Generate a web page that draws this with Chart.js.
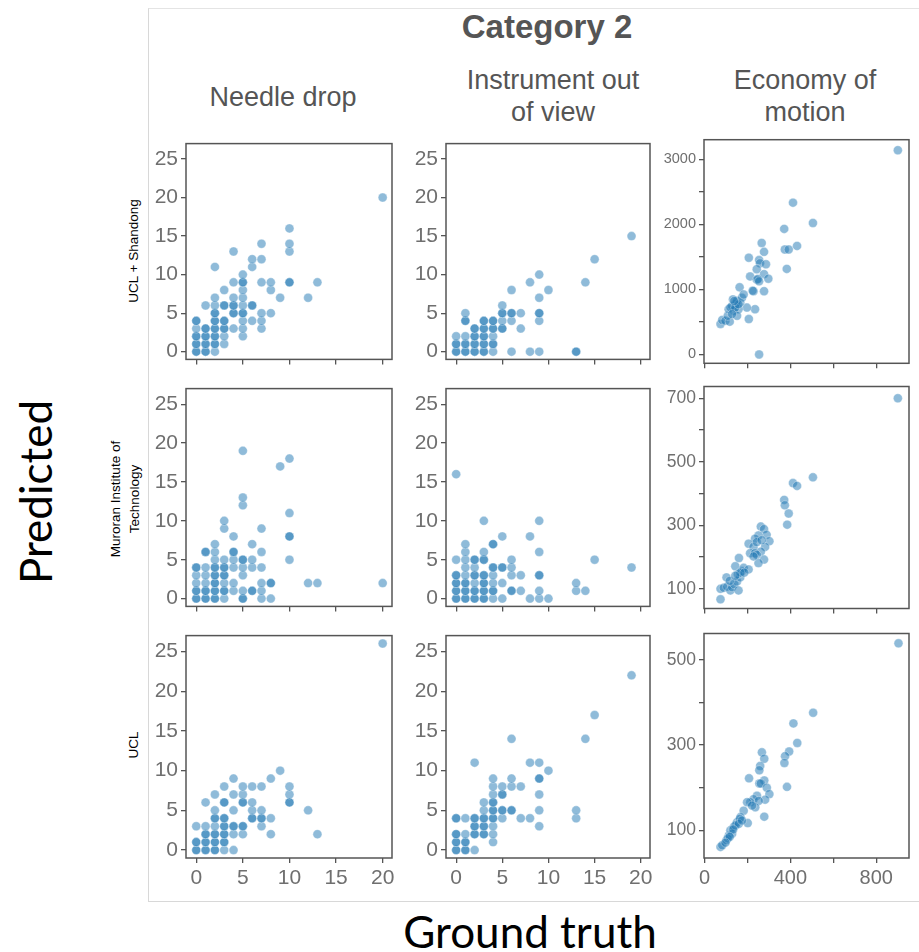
<!DOCTYPE html>
<html>
<head>
<meta charset="utf-8">
<script src="https://cdn.jsdelivr.net/npm/chart.js@4.4.0/dist/chart.umd.min.js"></script>
<style>
  body { margin: 0; background: #fff; width: 919px; height: 952px; position: relative; overflow: hidden;
         font-family: "Liberation Sans", Arial, sans-serif; }
  .frame { position: absolute; left: 148px; top: 8px; width: 771px; height: 892px;
           border-left: 1px solid #d8d8d8; border-top: 1px solid #e4e4e4; border-bottom: 1px solid #d8d8d8; }
  .txt { position: absolute; white-space: nowrap; text-align: center; transform: translate(-50%, -50%); }
  .rot { transform: translate(-50%, -50%) rotate(-90deg); }
  .head { color: #555; font-size: 27px; line-height: 32px; }
  .big { font-family: Lato, "Open Sans", sans-serif; font-size: 44px; color: #000; }
  .row { font-size: 13.5px; line-height: 19px; color: #000; }
  .panel { position: absolute; }
</style>
</head>
<body>
<div class="frame"></div>
<div class="txt" style="left:547px;top:27px;color:#555;font-size:33px;font-weight:bold">Category 2</div>
<div class="txt head" style="left:283px;top:97px">Needle drop</div>
<div class="txt head" style="left:553px;top:96px">Instrument out<br>of view</div>
<div class="txt head" style="left:805px;top:96px">Economy of<br>motion</div>
<div class="txt big rot" style="left:35px;top:492px">Predicted</div>
<div class="txt big" style="left:530px;top:931px">Ground truth</div>
<div class="txt row rot" style="left:133px;top:251px">UCL + Shandong</div>
<div class="txt row rot" style="left:125px;top:499px">Muroran Institute of<br>Technology</div>
<div class="txt row rot" style="left:133px;top:745px">UCL</div>

<script>
// ground truth / predicted pairs
const ucsNeedle = [
  [0,0],[0,0],[0,1],[0,1],[0,2],[0,2],[0,3],[0,4],[0,4],
  [1,0],[1,0],[1,1],[1,1],[1,2],[1,2],[1,3],[1,3],[1,6],
  [2,0],[2,1],[2,1],[2,2],[2,2],[2,3],[2,3],[2,4],[2,4],[2,5],[2,5],[2,6],[2,7],[2,11],
  [3,1],[3,2],[3,3],[3,3],[3,4],[3,4],[3,6],[3,6],[3,8],
  [4,3],[4,5],[4,5],[4,6],[4,6],[4,7],[4,9],[4,13],
  [5,2],[5,3],[5,4],[5,5],[5,5],[5,6],[5,7],[5,8],[5,9],[5,9],[5,10],
  [6,4],[6,6],[6,6],[6,11],[6,12],
  [7,3],[7,4],[7,5],[7,9],[7,12],[7,14],
  [8,5],[8,8],[8,9],
  [9,7],
  [10,9],[10,9],[10,13],[10,14],[10,16],
  [12,7],[13,9],[20,20]
];
const ucsInstrument = [
  [0,0],[0,0],[0,1],[0,1],[0,2],
  [1,0],[1,0],[1,1],[1,1],[1,2],[1,4],[1,4],[1,5],
  [2,0],[2,0],[2,1],[2,1],[2,2],[2,2],[2,3],[2,3],
  [3,0],[3,0],[3,1],[3,1],[3,2],[3,2],[3,3],[3,3],[3,4],[3,4],
  [4,0],[4,1],[4,1],[4,2],[4,3],[4,3],[4,4],[4,4],
  [5,3],[5,3],[5,4],[5,5],[5,5],[5,6],
  [6,0],[6,4],[6,5],[6,5],[6,8],
  [7,3],[7,5],
  [8,0],[8,9],
  [9,0],[9,4],[9,5],[9,5],[9,7],[9,10],
  [10,8],
  [13,0],[13,0],[14,9],[15,12],[19,15]
];
const ucsEconomy = [
  [901,3141],[412,2335],[505,2022],[371,1931],[374,1614],[392,1614],[431,1669],[383,1316],
  [266,1715],[277,1578],[206,1488],[254,1452],[258,1402],[286,1387],[243,1311],[277,1235],
  [212,1200],[243,1150],[248,1160],[254,1125],[297,1165],[277,973],[228,973],[224,980],[235,696],
  [206,545],[254,0],[163,1034],[197,721],[74,469],[82,530],[97,519],[117,504],[108,595],
  [112,696],[128,746],[143,772],[151,822],[135,671],[158,696],[166,797],[174,872],[151,595],
  [182,923],[132,847],[120,721],[143,721],[158,772],[138,822],[128,620]
];
const muroranNeedle = [
  [0,0],[0,0],[0,1],[0,1],[0,2],[0,3],[0,4],[0,4],
  [1,0],[1,0],[1,1],[1,1],[1,2],[1,3],[1,4],[1,6],[1,6],
  [2,0],[2,0],[2,1],[2,1],[2,2],[2,2],[2,3],[2,3],[2,4],[2,4],[2,5],[2,6],[2,7],
  [3,0],[3,1],[3,1],[3,2],[3,3],[3,3],[3,4],[3,4],[3,5],[3,9],[3,10],
  [4,1],[4,2],[4,4],[4,5],[4,6],[4,6],[4,8],
  [5,0],[5,0],[5,1],[5,3],[5,4],[5,5],[5,5],[5,12],[5,13],[5,19],
  [6,1],[6,1],[6,4],[6,5],[6,7],
  [7,0],[7,1],[7,2],[7,4],[7,6],[7,9],
  [8,0],[8,2],[8,2],
  [9,17],
  [10,5],[10,8],[10,8],[10,11],[10,18],
  [12,2],[13,2],[20,2]
];
const muroranInstrument = [
  [0,0],[0,0],[0,1],[0,1],[0,2],[0,2],[0,3],[0,3],[0,5],[0,16],
  [1,0],[1,0],[1,1],[1,1],[1,2],[1,2],[1,3],[1,4],[1,5],[1,6],[1,7],
  [2,0],[2,0],[2,1],[2,1],[2,2],[2,3],[2,3],[2,4],[2,5],[2,5],
  [3,0],[3,0],[3,1],[3,1],[3,2],[3,2],[3,3],[3,3],[3,5],[3,5],[3,6],[3,10],
  [4,0],[4,1],[4,1],[4,2],[4,3],[4,4],[4,4],[4,7],[4,7],
  [5,0],[5,2],[5,4],[5,4],[5,8],
  [6,1],[6,1],[6,3],[6,4],[6,5],
  [7,1],[7,3],
  [8,0],[8,8],
  [9,0],[9,1],[9,3],[9,3],[9,6],[9,10],
  [10,0],
  [13,1],[13,2],[14,1],[15,5],[19,4]
];
const muroranEconomy = [
  [901,700],[505,451],[412,433],[431,424],[371,380],[374,363],[392,337],[385,302],
  [262,296],[277,288],[289,270],[302,250],[251,268],[235,258],[205,242],[228,232],[243,247],
  [282,232],[262,217],[212,212],[235,212],[243,207],[277,192],[251,181],[228,202],[266,253],
  [74,67],[74,100],[89,103],[105,107],[120,95],[128,105],[138,115],[151,123],[158,95],[166,136],
  [160,197],[143,171],[174,156],[182,166],[205,161],[102,136],[117,125],[155,146],[166,151],
  [185,151],[143,141]
];
const uclNeedle = [
  [0,0],[0,0],[0,1],[0,1],[0,3],
  [1,0],[1,0],[1,1],[1,1],[1,2],[1,2],[1,3],[1,6],
  [2,0],[2,0],[2,1],[2,1],[2,2],[2,2],[2,3],[2,4],[2,4],[2,5],[2,7],
  [3,0],[3,1],[3,1],[3,2],[3,2],[3,3],[3,3],[3,4],[3,4],[3,6],[3,6],[3,8],
  [4,0],[4,2],[4,3],[4,3],[4,5],[4,7],[4,9],
  [5,2],[5,3],[5,3],[5,6],[5,6],[5,7],[5,8],
  [6,4],[6,4],[6,5],[6,6],[6,8],
  [7,3],[7,4],[7,4],[7,5],[7,8],
  [8,2],[8,4],[8,9],
  [9,10],
  [10,6],[10,6],[10,7],[10,8],
  [12,5],[13,2],[20,26]
];
const uclInstrument = [
  [0,0],[0,0],[0,1],[0,1],[0,2],[0,2],[0,4],[0,4],
  [1,0],[1,0],[1,1],[1,1],[1,2],[1,4],
  [2,0],[2,2],[2,2],[2,3],[2,3],[2,4],[2,4],[2,11],
  [3,2],[3,2],[3,3],[3,3],[3,4],[3,4],[3,5],[3,6],
  [4,1],[4,2],[4,3],[4,4],[4,4],[4,5],[4,5],[4,6],[4,6],[4,7],[4,8],[4,9],
  [5,4],[5,5],[5,5],[5,7],[5,7],[5,8],
  [6,5],[6,5],[6,8],[6,9],[6,14],
  [7,4],[7,8],
  [8,4],[8,11],
  [9,3],[9,5],[9,7],[9,9],[9,9],[9,11],
  [10,10],
  [13,4],[13,5],[14,14],[15,17],[19,22]
];
const uclEconomy = [
  [904,539],[506,376],[414,351],[432,305],[394,285],[375,274],[372,258],[384,202],
  [267,283],[278,268],[259,251],[255,241],[207,222],[278,217],[255,210],[262,210],[290,200],
  [302,185],[282,172],[278,132],[244,181],[228,173],[252,169],[213,166],[236,154],[198,166],
  [221,158],[182,146],[201,117],[167,131],
  [74,61],[82,65],[102,77],[113,88],[120,100],[136,108],[151,119],[164,127],[144,112],[128,92],
  [108,81],[159,115],[174,123],[133,102],[117,85],[97,71]
];

// ticks
const countTicks = [0, 5, 10, 15, 20, 25];
const countXTicks = [0, 5, 10, 15, 20];
const motionXTicks = [0, 200, 400, 600, 800];
const motionXLabels = [0, 400, 800];
const ucsMotionYTicks = [0, 500, 1000, 1500, 2000, 2500, 3000];
const ucsMotionYLabels = [0, 1000, 2000, 3000];
const muroranMotionYTicks = [100, 200, 300, 400, 500, 600, 700];
const muroranMotionYLabels = [100, 300, 500, 700];
const uclMotionYTicks = [100, 200, 300, 400, 500];
const uclMotionYLabels = [100, 300, 500];

// layout of the plot boxes (px)
const colLeft = [186, 446, 704], colWidth = [206, 204, 205];
const rowTop = [138, 383, 630], rowHeight = [227, 229, 228];
const YW = 62, PT = 10, PR = 14;

const countX = { min: -1.1, max: 21, ticks: countXTicks, labels: countXTicks };
const countY = { min: -1, max: 27, ticks: countTicks, labels: countTicks, size: 21 };
const motionX = { min: -3, max: 953, ticks: motionXTicks, labels: motionXLabels };

const panels = [
  { row: 0, col: 0, data: ucsNeedle, x: countX, y: countY },
  { row: 0, col: 1, data: ucsInstrument, x: countX, y: countY },
  { row: 0, col: 2, data: ucsEconomy, x: motionX,
    y: { min: -136, max: 3303, ticks: ucsMotionYTicks, labels: ucsMotionYLabels, size: 14.5 } },
  { row: 1, col: 0, data: muroranNeedle, x: countX, y: countY },
  { row: 1, col: 1, data: muroranInstrument, x: countX, y: countY },
  { row: 1, col: 2, data: muroranEconomy, x: motionX,
    y: { min: 38, max: 737, ticks: muroranMotionYTicks, labels: muroranMotionYLabels, size: 17.5 } },
  { row: 2, col: 0, data: uclNeedle, x: countX, y: countY },
  { row: 2, col: 1, data: uclInstrument, x: countX, y: countY },
  { row: 2, col: 2, data: uclEconomy, x: motionX,
    y: { min: 35, max: 562, ticks: uclMotionYTicks, labels: uclMotionYLabels, size: 17.5 } }
];

// box around each plot area
const boxPlugin = {
  id: 'boxPlugin',
  afterDraw(chart) {
    const a = chart.chartArea, ctx = chart.ctx;
    ctx.save();
    ctx.strokeStyle = '#555';
    ctx.lineWidth = 1.5;
    ctx.strokeRect(a.left, a.top, a.right - a.left, a.bottom - a.top);
    ctx.restore();
  }
};

const tickColor = '#6f6f6f';
const fontFam = '"Liberation Sans", Arial, sans-serif';

panels.forEach(p => {
  const bottom = p.row === 2;
  const XH = bottom ? 42 : 10;
  const div = document.createElement('div');
  div.className = 'panel';
  const w = YW + colWidth[p.col] + PR, h = PT + rowHeight[p.row] + XH;
  div.style.left = (colLeft[p.col] - YW) + 'px';
  div.style.top = (rowTop[p.row] - PT) + 'px';
  const cv = document.createElement('canvas');
  cv.width = w; cv.height = h;
  div.appendChild(cv);
  document.body.appendChild(div);

  new Chart(cv, {
    type: 'scatter',
    data: {
      datasets: [{
        data: p.data.map(([x, y]) => ({ x, y })),
        backgroundColor: 'rgba(31,119,180,0.5)',
        borderColor: 'rgba(255,255,255,0.55)',
        borderWidth: 0.6,
        pointRadius: 4.5,
        pointHoverRadius: 4.5
      }]
    },
    options: {
      responsive: false,
      animation: false,
      events: [],
      layout: { padding: { top: PT, right: PR, left: 0, bottom: 0 } },
      plugins: { legend: { display: false }, tooltip: { enabled: false } },
      scales: {
        x: {
          type: 'linear', min: p.x.min, max: p.x.max,
          afterBuildTicks: s => { s.ticks = p.x.ticks.map(v => ({ value: v })); },
          afterFit: s => { s.height = XH; },
          grid: { drawOnChartArea: false, drawTicks: true, tickLength: 5, color: '#555', lineWidth: 1.3 },
          border: { display: false },
          ticks: {
            autoSkip: false, maxRotation: 0, padding: 3, color: tickColor,
            font: { family: fontFam, size: p.col === 2 ? 20 : 21 },
            callback: v => (bottom && p.x.labels.includes(v)) ? String(v) : ''
          }
        },
        y: {
          type: 'linear', min: p.y.min, max: p.y.max,
          afterBuildTicks: s => { s.ticks = p.y.ticks.map(v => ({ value: v })); },
          afterFit: s => { s.width = YW; },
          grid: { drawOnChartArea: false, drawTicks: true, tickLength: 5, color: '#555', lineWidth: 1.3 },
          border: { display: false },
          ticks: {
            autoSkip: false, padding: 3, color: tickColor,
            font: { family: fontFam, size: p.y.size },
            callback: v => p.y.labels.includes(v) ? String(v) : ''
          }
        }
      }
    },
    plugins: [boxPlugin]
  });
});
</script>
</body>
</html>
